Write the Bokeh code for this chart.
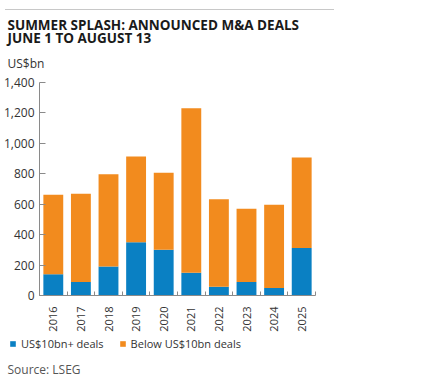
import math
from bokeh.plotting import figure
from bokeh.models import (ColumnDataSource, Range1d, FixedTicker, NumeralTickFormatter,
                          Legend, LegendItem, Title, Div)
from bokeh.layouts import column
from bokeh.embed import file_html
from bokeh.resources import INLINE

years = ["2016", "2017", "2018", "2019", "2020", "2021", "2022", "2023", "2024", "2025"]
big_deals = [140, 88, 191, 350, 300, 149, 57, 88, 50, 313]
total_deals = [662, 668, 797, 914, 806, 1231, 633, 570, 596, 907]
below_deals = [t - b for t, b in zip(total_deals, big_deals)]
series_names = ["US$10bn+ deals", "Below US$10bn deals"]
y_ticks = [0, 200, 400, 600, 800, 1000, 1200, 1400]

BLUE = "#0a80c3"
ORANGE = "#f28b1e"
COLORS = [BLUE, ORANGE]
FONT = "Open Sans"
TXT = "#333333"
LEFT = 32

xs = list(range(len(years)))
src = ColumnDataSource(dict(x=xs, big=big_deals, below=below_deals))

p = figure(frame_width=276, frame_height=213, output_backend="svg", toolbar_location=None,
           x_range=Range1d(-0.5, len(years) - 0.5), y_range=Range1d(0, 1400),
           title="SUMMER SPLASH: ANNOUNCED M&A DEALS", min_border_left=LEFT,
           min_border_right=100, min_border_bottom=40, min_border_top=0)
p.title.text_font = FONT
p.title.text_font_size = "13.5px"
p.title.text_font_style = "bold"
p.title.text_color = "#1a1a1a"
p.title.offset = -LEFT
p.title.standoff = -3

t_unit = Title(text="US$bn", text_font=FONT, text_font_size="12px",
               text_font_style="normal", text_color=TXT, offset=-LEFT, standoff=22)
t2 = Title(text="JUNE 1 TO AUGUST 13", text_font=FONT, text_font_size="13.5px",
           text_font_style="bold", text_color="#1a1a1a", offset=-LEFT, standoff=-11)
p.add_layout(t_unit, "above")
p.add_layout(t2, "above")

p.vbar_stack(["big", "below"], x="x", width=0.72, color=COLORS, source=src, line_color=None)

p.xgrid.visible = False
p.ygrid.visible = False
p.outline_line_color = None

ya = p.yaxis[0]
ya.ticker = FixedTicker(ticks=y_ticks)
ya.formatter = NumeralTickFormatter(format="0,0")
ya.major_tick_in = 6
ya.major_tick_out = 0
ya.minor_tick_line_color = None
ya.axis_line_color = "#8a8a8a"
ya.major_tick_line_color = "#8a8a8a"
ya.major_label_text_font = FONT
ya.major_label_text_font_size = "12px"
ya.major_label_text_color = TXT
ya.major_label_standoff = 5

xa = p.xaxis[0]
xa.ticker = FixedTicker(ticks=xs, minor_ticks=[i - 0.5 for i in range(len(years) + 1)])
xa.major_label_overrides = {i: y for i, y in zip(xs, years)}
xa.major_label_orientation = math.pi / 2
xa.major_tick_line_color = None
xa.minor_tick_in = 4
xa.minor_tick_out = 0
xa.minor_tick_line_color = "#8a8a8a"
xa.axis_line_color = "#8a8a8a"
xa.major_label_text_font = FONT
xa.major_label_text_font_size = "11px"
xa.major_label_text_color = TXT
xa.major_label_standoff = 5

# legend + source in a small companion figure below the chart
p2 = figure(frame_width=400, frame_height=22, output_backend="svg", toolbar_location=None,
            x_range=Range1d(0, 1), y_range=Range1d(0, 1), x_axis_type=None, y_axis_type=None,
            min_border_left=0, min_border_right=0, min_border_top=0, min_border_bottom=0)
p2.outline_line_color = None
items = []
for name, col in zip(series_names, COLORS):
    # legend proxies: same data, hidden in this strip (only the legend swatch shows)
    r = p2.vbar(x="x", top="big", width=0.5, color=col, line_color=None, source=src,
                visible=False)
    items.append(LegendItem(label=name, renderers=[r]))
legend = Legend(items=items, orientation="horizontal", location=(9, 6),
                glyph_width=7, glyph_height=7, label_text_font=FONT,
                label_text_font_size="11px", label_text_color=TXT,
                border_line_color=None, background_fill_alpha=0, inactive_fill_alpha=0,
                spacing=15, padding=0, margin=0, label_standoff=5, label_height=14)
p2.add_layout(legend, "center")

src_title = Title(text="Source: LSEG", text_font=FONT, text_font_size="12px",
                  text_font_style="normal", text_color="#555555", offset=-LEFT, standoff=2)
p2.add_layout(src_title, "below")

line = Div(text="", width=329, height=5,
           styles={"border-bottom": "1.5px solid #c8c8c8"})
layout = column(line, p, p2)
open("out.html", "w").write(file_html(layout, INLINE))
